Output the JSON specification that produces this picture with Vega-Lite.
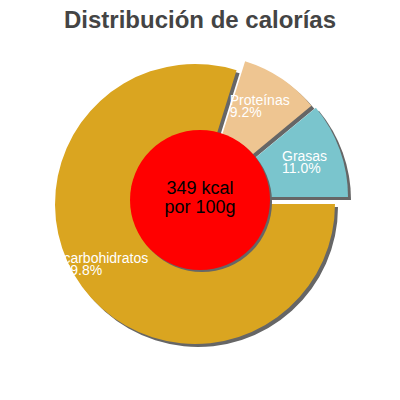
{
  "$schema": "https://vega.github.io/schema/vega-lite/v6.json",
  "width": 400,
  "height": 400,
  "padding": 0,
  "autosize": "none",
  "title": {
    "text": "Distribución de calorías",
    "font": "Liberation Sans",
    "fontSize": 24,
    "fontWeight": "bold",
    "color": "#444444",
    "offset": -33
  },
  "config": {"view": {"stroke": null}},
  "layer": [
    {
      "data": {
        "values": [
          {"name": "carbohidratos", "share": 0.798},
          {"name": "Proteínas", "share": 0.092},
          {"name": "Grasas", "share": 0.110}
        ]
      },
      "encoding": {
        "theta": {"field": "share", "type": "quantitative", "stack": true, "scale": {"range": [7.853982, 1.570796]}},
        "order": {"field": "name", "type": "nominal", "sort": "ascending"},
        "color": {
          "field": "name",
          "type": "nominal",
          "legend": null,
          "scale": {"domain": ["carbohidratos", "Proteínas", "Grasas"], "range": ["#DAA520", "#EEC591", "#7AC5CD"]}
        }
      },
      "layer": [
        {
          "mark": {"type": "arc", "radius": 140, "xOffset": -2, "yOffset": 7},
          "encoding": {
            "color": {"value": "#666666"},
            "opacity": {"condition": {"test": "datum.name === 'carbohidratos'", "value": 1}, "value": 0}
          }
        },
        {
          "mark": {"type": "arc", "radius": 140, "xOffset": 6.5, "yOffset": -2},
          "encoding": {
            "color": {"value": "#666666"},
            "opacity": {"condition": {"test": "datum.name === 'Proteínas'", "value": 1}, "value": 0}
          }
        },
        {
          "mark": {"type": "arc", "radius": 140, "xOffset": 11, "yOffset": 0},
          "encoding": {
            "color": {"value": "#666666"},
            "opacity": {"condition": {"test": "datum.name === 'Grasas'", "value": 1}, "value": 0}
          }
        },
        {
          "mark": {"type": "arc", "radius": 140, "xOffset": -5, "yOffset": 4},
          "encoding": {
            "opacity": {"condition": {"test": "datum.name === 'carbohidratos'", "value": 1}, "value": 0}
          }
        },
        {
          "mark": {"type": "arc", "radius": 140, "xOffset": 3.5, "yOffset": -5},
          "encoding": {
            "opacity": {"condition": {"test": "datum.name === 'Proteínas'", "value": 1}, "value": 0}
          }
        },
        {
          "mark": {"type": "arc", "radius": 140, "xOffset": 8, "yOffset": -3},
          "encoding": {
            "opacity": {"condition": {"test": "datum.name === 'Grasas'", "value": 1}, "value": 0}
          }
        },
        {
          "mark": {"type": "text", "radius": 110, "xOffset": -5, "yOffset": 4, "dx": -43, "dy": -6, "align": "left", "baseline": "alphabetic", "font": "Liberation Sans", "fontSize": 14},
          "encoding": {
            "text": {"field": "name"},
            "color": {"value": "white"},
            "opacity": {"condition": {"test": "datum.name === 'carbohidratos'", "value": 1}, "value": 0}
          }
        },
        {
          "mark": {"type": "text", "radius": 110, "xOffset": -5, "yOffset": 4, "dx": -44, "dy": 6, "align": "left", "baseline": "alphabetic", "font": "Liberation Sans", "fontSize": 14},
          "encoding": {
            "text": {"field": "share", "format": ".1%"},
            "color": {"value": "white"},
            "opacity": {"condition": {"test": "datum.name === 'carbohidratos'", "value": 1}, "value": 0}
          }
        },
        {
          "mark": {"type": "text", "radius": 110, "xOffset": 3.5, "yOffset": -5, "dx": -35, "dy": 1, "align": "left", "baseline": "alphabetic", "font": "Liberation Sans", "fontSize": 14},
          "encoding": {
            "text": {"field": "name"},
            "color": {"value": "white"},
            "opacity": {"condition": {"test": "datum.name === 'Proteínas'", "value": 1}, "value": 0}
          }
        },
        {
          "mark": {"type": "text", "radius": 110, "xOffset": 3.5, "yOffset": -5, "dx": -35, "dy": 13, "align": "left", "baseline": "alphabetic", "font": "Liberation Sans", "fontSize": 14},
          "encoding": {
            "text": {"field": "share", "format": ".1%"},
            "color": {"value": "white"},
            "opacity": {"condition": {"test": "datum.name === 'Proteínas'", "value": 1}, "value": 0}
          }
        },
        {
          "mark": {"type": "text", "radius": 110, "xOffset": 8, "yOffset": -3, "dx": -29.5, "dy": 1, "align": "left", "baseline": "alphabetic", "font": "Liberation Sans", "fontSize": 14},
          "encoding": {
            "text": {"field": "name"},
            "color": {"value": "white"},
            "opacity": {"condition": {"test": "datum.name === 'Grasas'", "value": 1}, "value": 0}
          }
        },
        {
          "mark": {"type": "text", "radius": 110, "xOffset": 8, "yOffset": -3, "dx": -29.5, "dy": 13, "align": "left", "baseline": "alphabetic", "font": "Liberation Sans", "fontSize": 14},
          "encoding": {
            "text": {"field": "share", "format": ".1%"},
            "color": {"value": "white"},
            "opacity": {"condition": {"test": "datum.name === 'Grasas'", "value": 1}, "value": 0}
          }
        }
      ]
    },
    {
      "data": {"values": [{"energy": "349 kcal", "basis": "por 100g"}]},
      "layer": [
        {
          "mark": {"type": "point", "filled": true, "size": 19600, "color": "#666666", "opacity": 1, "xOffset": 2, "yOffset": 2},
          "encoding": {}
        },
        {
          "mark": {"type": "point", "filled": true, "size": 19600, "color": "#FF0000", "opacity": 1},
          "encoding": {}
        },
        {
          "mark": {"type": "text", "dy": -6, "baseline": "alphabetic", "font": "Liberation Sans", "fontSize": 18, "color": "black"},
          "encoding": {"text": {"field": "energy"}}
        },
        {
          "mark": {"type": "text", "dy": 13, "baseline": "alphabetic", "font": "Liberation Sans", "fontSize": 18, "color": "black"},
          "encoding": {"text": {"field": "basis"}}
        }
      ]
    }
  ]
}
